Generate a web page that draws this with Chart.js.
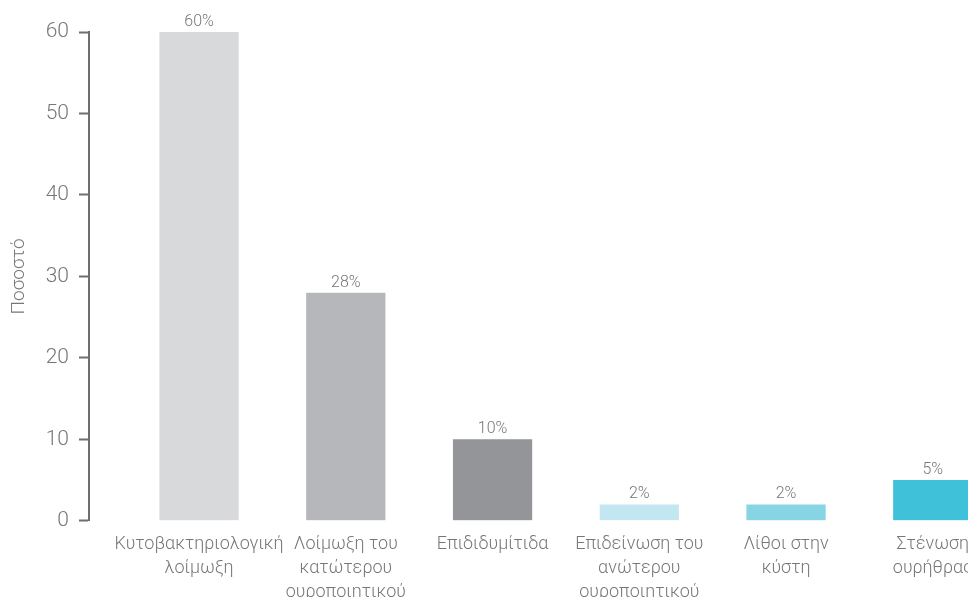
<!DOCTYPE html>
<html lang="el">
<head>
    <meta charset="UTF-8">
    <title>Ποσοστό ανά αιτία</title>
    <script src="https://cdn.jsdelivr.net/npm/chart.js"></script>
    <style>
        html, body { margin: 0; padding: 0; background: #fff; overflow: hidden; }
        #wrap { position: relative; width: 968px; height: 616px; }
    </style>
</head>
<body>
    <div id="wrap">
        <canvas id="causes-chart"></canvas>
    </div>

    <script>
        // Categories (one array per wrapped label) and their percentages
        const categories = [
            ['Κυτοβακτηριολογική', 'λοίμωξη'],
            ['Λοίμωξη του', 'κατώτερου', 'ουροποιητικού'],
            ['Επιδιδυμίτιδα'],
            ['Επιδείνωση του', 'ανώτερου', 'ουροποιητικού'],
            ['Λίθοι στην', 'κύστη'],
            ['Στένωση', 'ουρήθρας']
        ];
        const percentages = [60, 28, 10, 2, 2, 5];
        const barColors = ['#d8d9db', '#b6b7ba', '#939598', '#c3e7f0', '#87d4e4', '#3ec1d9'];
        const yTicks = [0, 10, 20, 30, 40, 50, 60];

        const FONT = 'Roboto, "Liberation Sans", sans-serif';
        const axisGray = '#6d6e71';
        const textGray = '#767779';

        // writes "NN%" above every bar
        const valueLabels = {
            id: 'valueLabels',
            afterDatasetsDraw(chart) {
                const ctx = chart.ctx;
                const meta = chart.getDatasetMeta(0);
                ctx.save();
                ctx.font = '300 16px ' + FONT;
                ctx.fillStyle = textGray;
                ctx.textAlign = 'center';
                ctx.textBaseline = 'alphabetic';
                meta.data.forEach((bar, i) => {
                    ctx.fillText(percentages[i] + '%', bar.x, bar.y - 6);
                });
                ctx.restore();
            }
        };

        document.addEventListener('DOMContentLoaded', function() {
            const ctx = document.getElementById('causes-chart').getContext('2d');

            new Chart(ctx, {
                type: 'bar',
                data: {
                    datasets: [{
                        data: percentages.map((v, i) => ({ x: i, y: v })),
                        backgroundColor: barColors,
                        borderWidth: 0,
                        barPercentage: 0.54,
                        categoryPercentage: 1
                    }]
                },
                options: {
                    responsive: true,
                    maintainAspectRatio: false,
                    animation: false,
                    layout: { padding: { top: 32, right: 0, bottom: 0, left: 0 } },
                    plugins: {
                        legend: { display: false },
                        tooltip: { enabled: false }
                    },
                    scales: {
                        x: {
                            type: 'linear',
                            offset: false,
                            min: -0.75,
                            max: 5.24,
                            grid: { display: false, drawTicks: false },
                            border: { display: false },
                            afterBuildTicks: scale => {
                                scale.ticks = categories.map((_, i) => ({ value: i }));
                            },
                            // the last label may run past the edge, don't shrink the plot for it
                            afterFit: scale => {
                                scale.paddingLeft = 0;
                                scale.paddingRight = 0;
                            },
                            ticks: {
                                autoSkip: false,
                                maxRotation: 0,
                                minRotation: 0,
                                padding: 12,
                                color: textGray,
                                font: { family: FONT, size: 18, weight: 300, lineHeight: 1.32 },
                                callback: value => categories[value]
                            }
                        },
                        y: {
                            min: 0,
                            max: 60,
                            afterBuildTicks: scale => {
                                scale.ticks = yTicks.map(v => ({ value: v }));
                            },
                            afterFit: scale => { scale.width = 89; },
                            border: { display: true, color: axisGray, width: 2 },
                            grid: {
                                drawOnChartArea: false,
                                drawTicks: true,
                                tickLength: 10,
                                tickWidth: 2,
                                tickColor: axisGray
                            },
                            ticks: {
                                padding: 10,
                                color: textGray,
                                font: { family: FONT, size: 21, weight: 300 }
                            },
                            title: {
                                display: true,
                                text: 'Ποσοστό',
                                color: textGray,
                                padding: { top: 8, bottom: 0 },
                                font: { family: FONT, size: 19, weight: 300 }
                            }
                        }
                    }
                },
                plugins: [valueLabels]
            });
        });
    </script>
</body>
</html>
